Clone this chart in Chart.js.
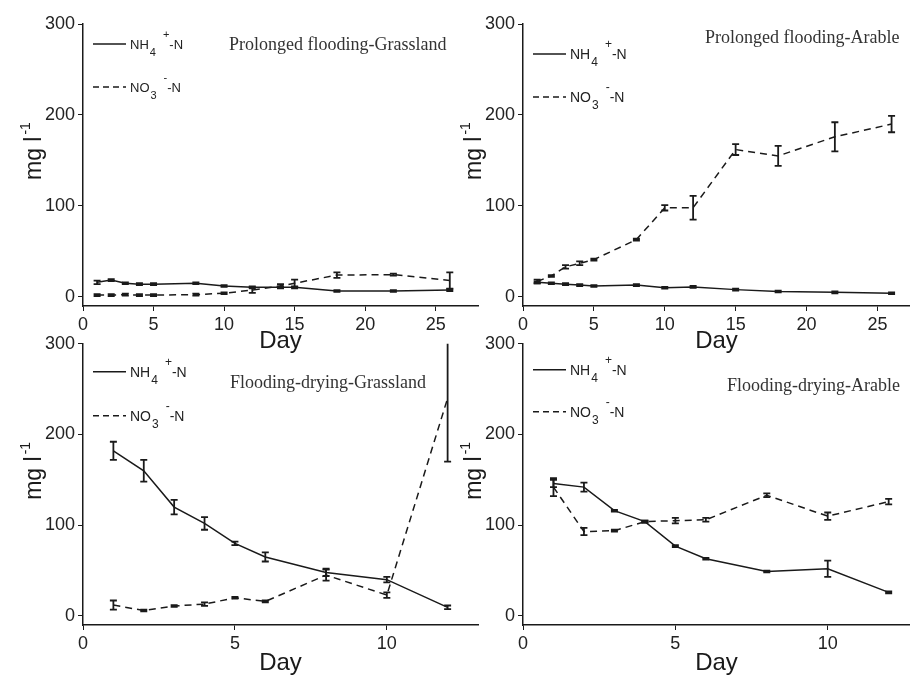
<!DOCTYPE html>
<html>
<head>
<meta charset="utf-8">
<script src="https://cdn.jsdelivr.net/npm/chart.js@4.4.1/dist/chart.umd.min.js"></script>
<style>
  body { margin: 0; background: #fff; }
  #wrap { position: relative; width: 910px; height: 678px; overflow: hidden; background: #fff; }
  canvas { position: absolute; }
</style>
</head>
<body>
<div id="wrap">
  <canvas id="p1" width="480" height="360" style="left:0;top:0"></canvas>
  <canvas id="p2" width="455" height="360" style="left:455px;top:0"></canvas>
  <canvas id="p3" width="480" height="348" style="left:0;top:330px"></canvas>
  <canvas id="p4" width="455" height="348" style="left:455px;top:330px"></canvas>
</div>
<script>
// prolonged flooding - grassland
var days1 = [1, 2, 3, 4, 5, 8, 10, 12, 14, 15, 18, 22, 26];
var nh4Grass1 = [16, 18.5, 15, 14, 14, 15, 12, 10.5, 10.5, 10.5, 6.5, 6.5, 7.5];
var nh4Grass1Err = [2, 1, 1, 1, 1, 1, 1, 1, 1, 1, 1, 1, 1];
var no3Grass1 = [2, 2, 2.5, 2, 2, 2.5, 4, 7.5, 12, 15, 24, 24.5, 18];
var no3Grass1Err = [1, 1, 1, 1, 1, 1, 1, 3, 2, 4, 3, 1, 9];

// prolonged flooding - arable
var days2 = [1, 2, 3, 4, 5, 8, 10, 12, 15, 18, 22, 26];
var nh4Arable1 = [16, 15, 14, 13, 12, 13, 10, 11, 8, 6, 5, 4];
var nh4Arable1Err = [1, 1, 1, 1, 1, 1, 1, 1, 1, 1, 1, 1];
var no3Arable1 = [17, 23, 33, 37, 41, 63, 98, 98, 162, 155, 176, 190];
var no3Arable1Err = [2, 1, 2, 2, 1, 1, 3, 13, 6, 11, 16, 9];

// flooding-drying - grassland
var days3 = [1, 2, 3, 4, 5, 6, 8, 10, 12];
var nh4Grass2 = [182, 160, 120, 102, 80, 65, 48, 40, 9.5];
var nh4Grass2Err = [10, 12, 8, 7, 2, 5, 4, 3, 2];
var no3Grass2 = [12, 6, 11, 13, 20, 16, 45, 23, 240];
var no3Grass2Err = [5, 1, 1, 2, 1, 1, 6, 3, 70];

// flooding-drying - arable
var days4 = [1, 2, 3, 4, 5, 6, 8, 10, 12];
var nh4Arable2 = [146, 142, 116, 104, 77, 63, 49, 52, 26];
var nh4Arable2Err = [4, 5, 1, 1, 1, 1, 1, 9, 1];
var no3Arable2 = [142, 93, 94, 104, 105, 106, 133, 110, 126];
var no3Arable2Err = [10, 4, 1, 1, 3, 2, 2, 4, 3];

var yTicks = [0, 100, 200, 300];
var ink = '#1a1a1a';

function pts(days, vals) {
  return days.map(function(d, i) { return { x: d, y: vals[i] }; });
}

// error bars, legend with sub/superscripts, panel title, y title
var panelDecor = {
  id: 'panelDecor',
  afterDatasetsDraw: function(chart) {
    var ctx = chart.ctx, area = chart.chartArea, ys = chart.scales.y;
    ctx.save();
    ctx.beginPath();
    ctx.rect(area.left, area.top, area.right - area.left, area.bottom - area.top);
    ctx.clip();
    chart.data.datasets.forEach(function(ds, i) {
      var meta = chart.getDatasetMeta(i);
      ctx.strokeStyle = ink;
      ctx.lineWidth = 1.8;
      ctx.setLineDash([]);
      meta.data.forEach(function(pt, j) {
        var e = ds.errors[j];
        var yt = ys.getPixelForValue(ds.data[j].y + e);
        var yb = ys.getPixelForValue(ds.data[j].y - e);
        ctx.beginPath();
        ctx.moveTo(pt.x, yt); ctx.lineTo(pt.x, yb);
        ctx.moveTo(pt.x - 3.5, yt); ctx.lineTo(pt.x + 3.5, yt);
        ctx.moveTo(pt.x - 3.5, yb); ctx.lineTo(pt.x + 3.5, yb);
        ctx.stroke();
      });
    });
    ctx.restore();
  },
  afterDraw: function(chart, args, o) {
    var ctx = chart.ctx, area = chart.chartArea;
    ctx.save();
    ctx.fillStyle = '#222';
    ctx.textBaseline = 'alphabetic';

    // legend
    var rows = [
      { dash: [], main: 'NH', sub: '4', sup: '+', dy: o.leg1 },
      { dash: [6, 4], main: 'NO', sub: '3', sup: '-', dy: o.leg2 }
    ];
    var fs = o.legSize;
    rows.forEach(function(r) {
      var y = area.top + r.dy, x0 = area.left + 10;
      ctx.strokeStyle = ink;
      ctx.lineWidth = 1.5;
      ctx.setLineDash(r.dash);
      ctx.beginPath(); ctx.moveTo(x0, y); ctx.lineTo(x0 + 33, y); ctx.stroke();
      ctx.setLineDash([]);
      var x = x0 + 37;
      ctx.font = fs + 'px "Liberation Sans", Arial, sans-serif';
      ctx.fillText(r.main, x, y + 5);
      x += ctx.measureText(r.main).width + 1;
      ctx.font = (fs - 2) + 'px "Liberation Sans", Arial, sans-serif';
      ctx.fillText(r.sub, x, y + 12);
      x += ctx.measureText(r.sub).width + 7;
      ctx.fillText(r.sup, x, y - 6);
      x += ctx.measureText(r.sup).width;
      ctx.font = fs + 'px "Liberation Sans", Arial, sans-serif';
      ctx.fillText('-N', x, y + 5);
    });

    // panel title
    ctx.fillStyle = '#333';
    ctx.font = '18px "Liberation Serif", "Times New Roman", serif';
    ctx.fillText(o.title, area.left + o.titleX, area.top + o.titleY);

    // y title  mg l^-1
    ctx.fillStyle = ink;
    ctx.translate(area.left - 42, area.top + 156);
    ctx.rotate(-Math.PI / 2);
    ctx.font = '23px "Liberation Sans", Arial, sans-serif';
    ctx.fillText('mg l', 0, 0);
    var w = ctx.measureText('mg l').width;
    ctx.font = '14px "Liberation Sans", Arial, sans-serif';
    ctx.fillText('-1', w + 2, -11);
    ctx.restore();
  }
};

function makePanel(id, days, nh4, nh4Err, no3, no3Err, p) {
  var ctx = document.getElementById(id).getContext('2d');
  return new Chart(ctx, {
    type: 'line',
    data: {
      datasets: [{
        label: 'NH4+-N',
        data: pts(days, nh4),
        errors: nh4Err,
        borderColor: ink,
        borderWidth: 1.5,
        pointRadius: 0,
        tension: 0
      }, {
        label: 'NO3--N',
        data: pts(days, no3),
        errors: no3Err,
        borderColor: ink,
        borderWidth: 1.5,
        borderDash: [7, 5],
        pointRadius: 0,
        tension: 0
      }]
    },
    options: {
      responsive: false,
      animation: false,
      layout: { padding: { top: p.padTop, right: p.padRight, left: 0, bottom: 0 } },
      plugins: {
        legend: { display: false },
        tooltip: { enabled: false },
        panelDecor: p
      },
      scales: {
        x: {
          type: 'linear',
          min: 0,
          max: p.xMax,
          afterFit: function(s) { s.height = p.xH; },
          ticks: {
            stepSize: 5,
            includeBounds: false,
            color: '#222',
            padding: 3,
            font: { size: 18, family: '"Liberation Sans", Arial, sans-serif' }
          },
          grid: { drawOnChartArea: false, drawTicks: true, tickLength: 5, color: ink },
          border: { color: ink, width: 1.5 },
          title: {
            display: true,
            text: 'Day',
            color: ink,
            padding: { top: 0, bottom: p.dayPad },
            font: { size: 24, family: '"Liberation Sans", Arial, sans-serif' }
          }
        },
        y: {
          min: -10,
          max: 300,
          afterFit: function(s) { s.width = p.yW; },
          afterBuildTicks: function(s) { s.ticks = yTicks.map(function(v) { return { value: v }; }); },
          ticks: {
            color: '#222',
            padding: 3,
            font: { size: 18, family: '"Liberation Sans", Arial, sans-serif' }
          },
          grid: { drawOnChartArea: false, drawTicks: true, tickLength: 5, color: ink },
          border: { color: ink, width: 1.5 }
        }
      }
    },
    plugins: [panelDecor]
  });
}

makePanel('p1', days1, nh4Grass1, nh4Grass1Err, no3Grass1, no3Grass1Err, {
  xMax: 28, padTop: 24, padRight: 2, yW: 83, xH: 54, dayPad: 4,
  title: 'Prolonged flooding-Grassland', titleX: 146, titleY: 26,
  leg1: 20, leg2: 63, legSize: 13
});
makePanel('p2', days2, nh4Arable1, nh4Arable1Err, no3Arable1, no3Arable1Err, {
  xMax: 27.3, padTop: 24, padRight: 0, yW: 68, xH: 54, dayPad: 4,
  title: 'Prolonged flooding-Arable', titleX: 182, titleY: 19,
  leg1: 30, leg2: 73, legSize: 14
});
makePanel('p3', days3, nh4Grass2, nh4Grass2Err, no3Grass2, no3Grass2Err, {
  xMax: 13, padTop: 12, padRight: 2, yW: 83, xH: 53, dayPad: 0,
  title: 'Flooding-drying-Grassland', titleX: 147, titleY: 44,
  leg1: 28, leg2: 72, legSize: 14
});
makePanel('p4', days4, nh4Arable2, nh4Arable2Err, no3Arable2, no3Arable2Err, {
  xMax: 12.7, padTop: 12, padRight: 0, yW: 68, xH: 53, dayPad: 0,
  title: 'Flooding-drying-Arable', titleX: 204, titleY: 47,
  leg1: 26, leg2: 68, legSize: 14
});
</script>
</body>
</html>
